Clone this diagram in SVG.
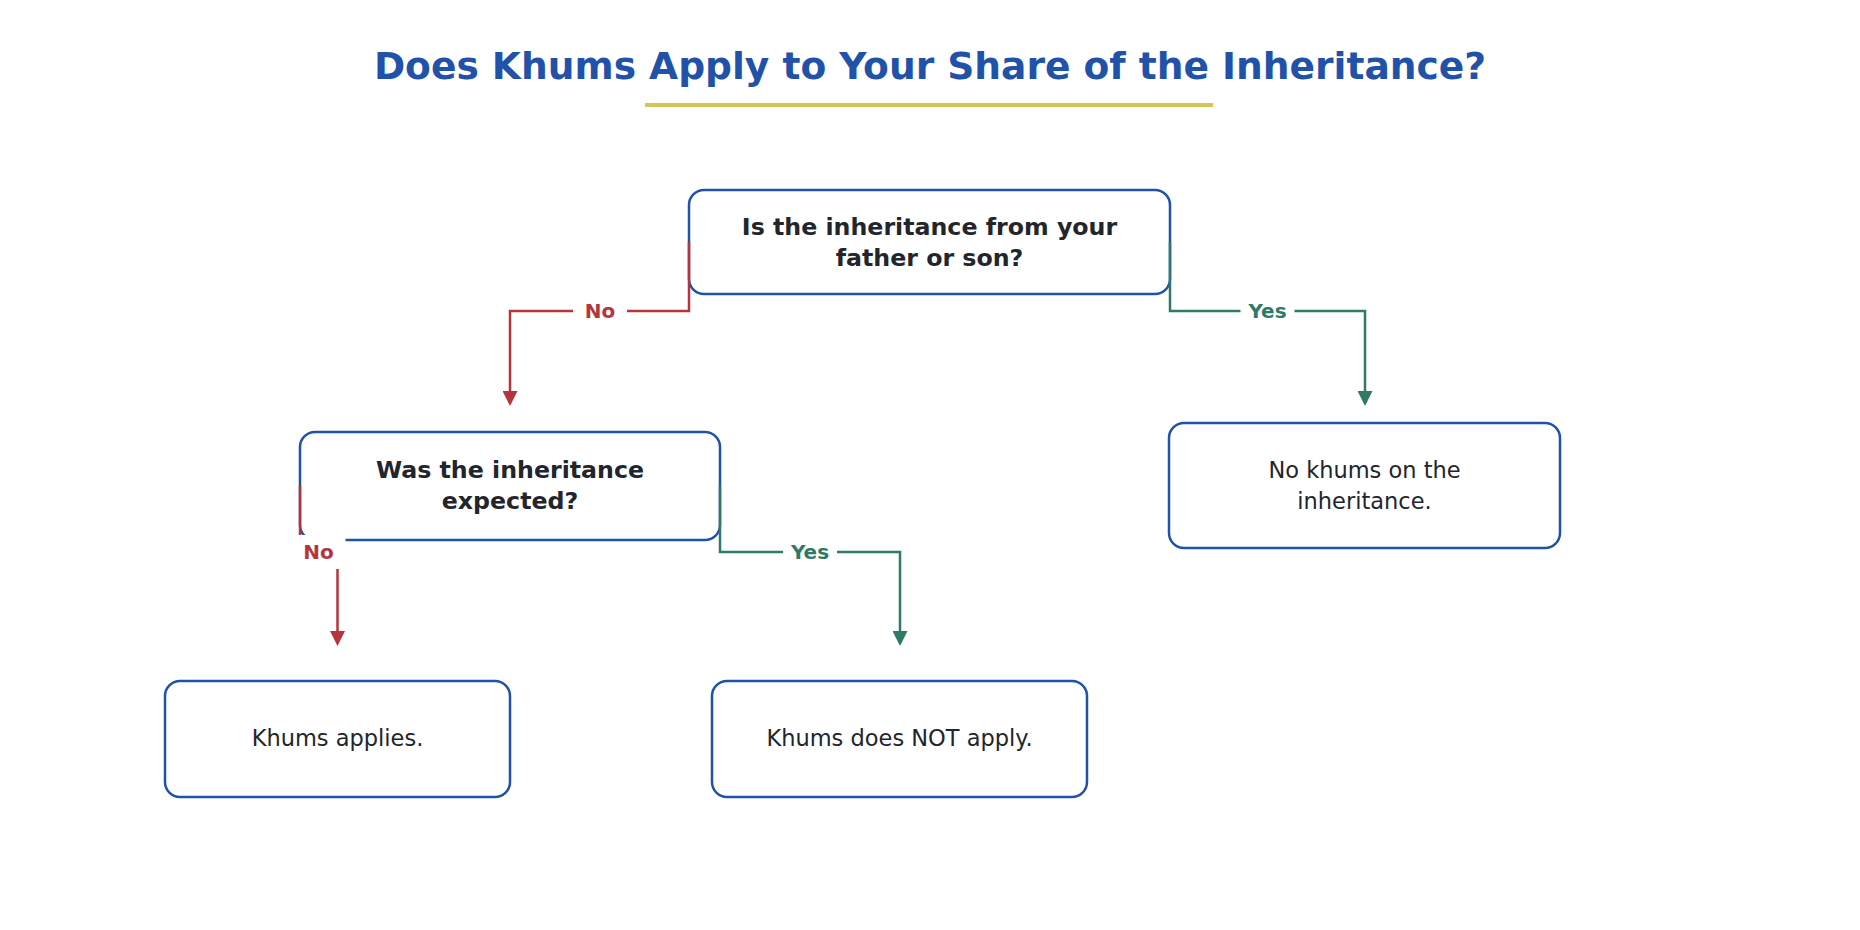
<svg xmlns="http://www.w3.org/2000/svg" width="1860" height="930" viewBox="0 0 1860 930">
<style>
.node rect{fill:#ffffff;stroke:#1f52a8;stroke-width:2.5}
.q{font-family:"DejaVu Sans","Noto Sans",sans-serif;font-weight:bold;font-size:23.7px;fill:#22252b;text-anchor:middle}
.a{font-family:"DejaVu Sans","Noto Sans",sans-serif;font-size:22.5px;fill:#22252b;text-anchor:middle}
.title{font-family:"DejaVu Sans","Noto Sans",sans-serif;font-weight:bold;font-size:37.6px;fill:#1f52a8;text-anchor:middle}
.no{fill:none;stroke:#b5353d;stroke-width:2.5}
.yes{fill:none;stroke:#2f7a66;stroke-width:2.5}
.lbl{font-family:"DejaVu Sans","Noto Sans",sans-serif;font-weight:bold;font-size:20px;text-anchor:middle}
.bg{fill:#ffffff}
</style>
<defs>
<marker id="arRed" viewBox="0 0 15 15" refX="12" refY="7.5" markerWidth="15" markerHeight="15" markerUnits="userSpaceOnUse" orient="auto"><path d="M0,0 L15,7.5 L0,15 z" fill="#b5353d"/></marker>
<marker id="arGreen" viewBox="0 0 15 15" refX="12" refY="7.5" markerWidth="15" markerHeight="15" markerUnits="userSpaceOnUse" orient="auto"><path d="M0,0 L15,7.5 L0,15 z" fill="#2f7a66"/></marker>
</defs>
<rect width="1860" height="930" fill="#ffffff"/>
<g id="title">
<text class="title" x="930" y="79">Does Khums Apply to Your Share of the Inheritance?</text>
<line x1="645" y1="105" x2="1213" y2="105" stroke="#d6c552" stroke-width="4"/>
</g>
<g id="n1" class="node">
<rect x="689" y="190" width="481" height="104" rx="15"/>
<text class="q" x="929.5" y="234.5">Is the inheritance from your</text>
<text class="q" x="929.5" y="266">father or son?</text>
</g>
<g id="n2" class="node">
<rect x="300" y="432" width="420" height="108" rx="15"/>
<text class="q" x="510" y="478">Was the inheritance</text>
<text class="q" x="510" y="509">expected?</text>
</g>
<g id="n3" class="node">
<rect x="1169" y="423" width="391" height="125" rx="15"/>
<text class="a" x="1364.5" y="477.5">No khums on the</text>
<text class="a" x="1364.5" y="509">inheritance.</text>
</g>
<g id="n4" class="node">
<rect x="165" y="681" width="345" height="116" rx="15"/>
<text class="a" x="337.5" y="746">Khums applies.</text>
</g>
<g id="n5" class="node">
<rect x="712" y="681" width="375" height="116" rx="15"/>
<text class="a" x="899.5" y="746">Khums does NOT apply.</text>
</g>
<g id="connectors">
<path class="no" d="M689,242 V311 H510 V403" marker-end="url(#arRed)"/>
<path class="yes" d="M1170,242 V311 H1365 V403" marker-end="url(#arGreen)"/>
<path class="no" d="M300,486 V552 H337.5 V643" marker-end="url(#arRed)"/>
<path class="yes" d="M720,486 V552 H900 V643" marker-end="url(#arGreen)"/>
<rect class="bg" x="573" y="294" width="54" height="34"/>
<text class="lbl" x="600" y="318" fill="#b5353d">No</text>
<rect class="bg" x="1240.5" y="294" width="54" height="34"/>
<text class="lbl" x="1267.5" y="318" fill="#2f7a66">Yes</text>
<rect class="bg" x="291.5" y="535" width="54" height="34"/>
<text class="lbl" x="318.5" y="559" fill="#b5353d">No</text>
<rect class="bg" x="783" y="535" width="54" height="34"/>
<text class="lbl" x="810" y="559" fill="#2f7a66">Yes</text>
</g>
</svg>
